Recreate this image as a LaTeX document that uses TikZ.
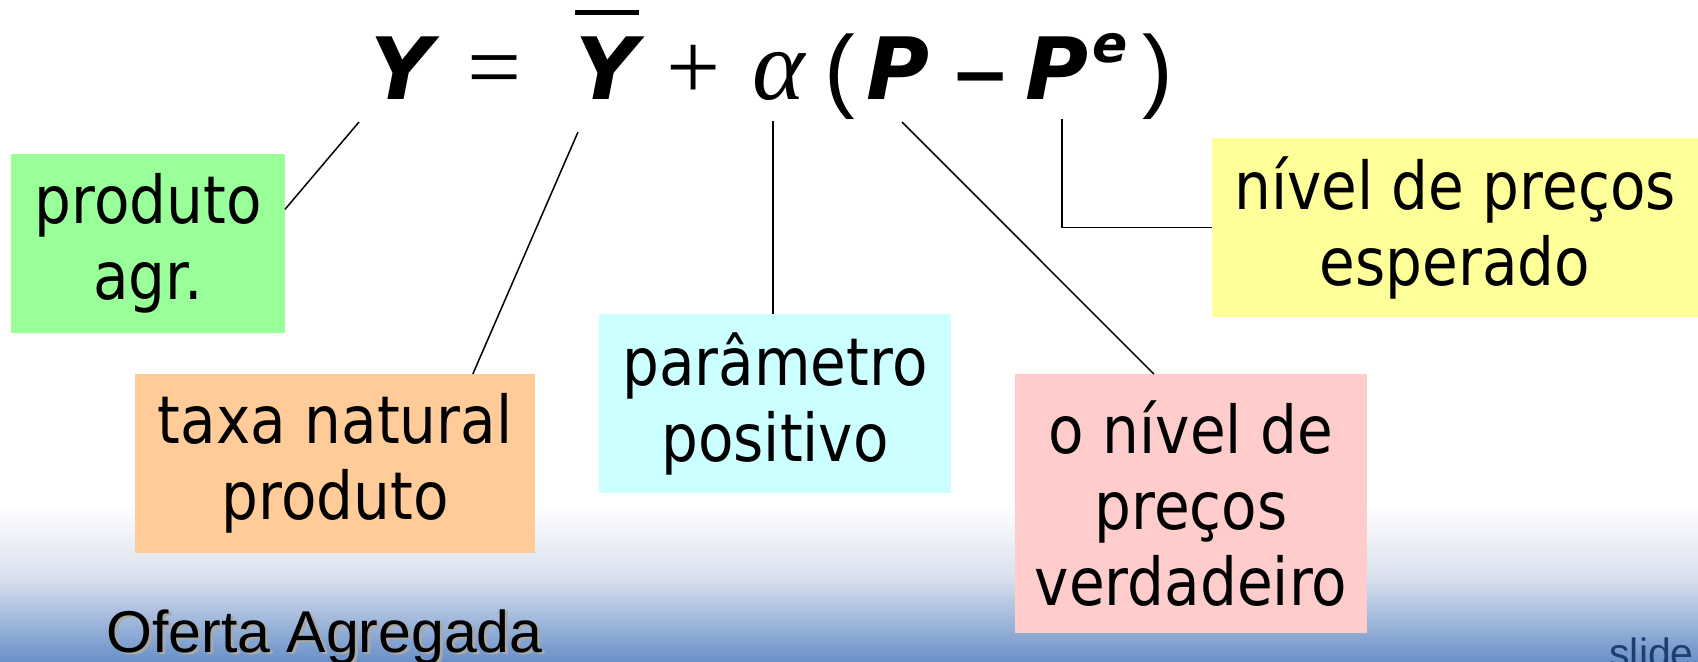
\documentclass[tikz,border=0pt]{standalone}
\usepackage{fontspec}
\setmainfont{DejaVu Sans}
\newfontfamily\eqfont{DejaVu Sans}
\newfontfamily\symfont{Liberation Serif}
\newfontfamily\boxfont{DejaVu Sans}[FakeStretch=0.88]
\newfontfamily\titlefont{Liberation Sans}
\usepackage{tikz}
\definecolor{prodgreen}{HTML}{99FF99}
\definecolor{rateorange}{HTML}{FFCC99}
\definecolor{paramcyan}{HTML}{CCFFFF}
\definecolor{actualpink}{HTML}{FFCCCC}
\definecolor{expectyellow}{HTML}{FFFF99}
\definecolor{bandmid}{HTML}{D8DFEE}
\definecolor{bandlow}{HTML}{6890C8}
\definecolor{shadowgray}{HTML}{A8A8A8}
\definecolor{slideblue}{HTML}{1E3F6E}
\newcommand{\shadowtext}[1]{\makebox[0pt][l]{\hspace{1.5pt}\raisebox{-1.5pt}{\textcolor{shadowgray}{#1}}}#1}

\begin{document}
\begin{tikzpicture}[x=0.5pt, y=-0.5pt,
  var/.style={anchor=base, inner sep=0pt, font=\eqfont\bfseries\itshape\fontsize{43pt}{43pt}\selectfont},
  sym/.style={anchor=base, inner sep=0pt, font=\symfont\fontsize{48pt}{48pt}\selectfont},
  paren/.style={anchor=base, inner sep=0pt, font=\titlefont\fontsize{46pt}{46pt}\selectfont},
  note/.style={anchor=north west, inner sep=0pt, outer sep=0pt, align=center, font=\boxfont\fontsize{33pt}{38pt}\selectfont},
  link/.style={draw, line width=0.75pt}]
  \useasboundingbox (0,0) rectangle (1698,662);
  % background band
  \fill[white] (0,0) rectangle (1698,505);
  \shade[top color=white, bottom color=bandmid] (0,504) rectangle (1698,580);
  \shade[top color=bandmid, bottom color=bandlow] (0,579) rectangle (1698,662);

  % the equation
  \node[var] (eY) at (402,100) {Y};
  \node[sym] (eEq) at (495,100) {=};
  \node[var] (eYb) at (607,100) {Y};
  \draw[line width=2.5pt] ([yshift=12pt]eYb.north west) -- ([yshift=12pt]eYb.north east);
  \node[sym] (ePlus) at (694,100) {+};
  \node[sym, font=\symfont\itshape\fontsize{50pt}{50pt}\selectfont] (eAl) at (779,100) {α};
  \node[paren] (eLp) at (840,101) {(};
  \node[var] (eP) at (898,100) {P};
  \node[anchor=base, inner sep=0pt, font=\eqfont\bfseries\fontsize{36pt}{36pt}\selectfont] (eMin) at (981,100) {−};
  \node[var] (ePe) at (1057,100) {P};
  \node[var, font=\eqfont\bfseries\itshape\fontsize{26pt}{26pt}\selectfont] (eSup) at (1110,63) {e};
  \node[paren] (eRp) at (1158,101) {)};

  \coordinate (sY) at (359,122);
  \coordinate (sYb) at (578,132);
  \coordinate (sA) at (773,121);
  \coordinate (sP) at (902,122);
  \coordinate (sPe) at (1062,119);

  % the labels
  \node[note, fill=prodgreen, minimum width=137pt, minimum height=89.5pt] (prod) at (11,154) {produto\\agr.};
  \node[note, fill=rateorange, minimum width=200pt, minimum height=89.5pt] (rate) at (135,374) {taxa natural\\produto};
  \node[note, fill=paramcyan, minimum width=176pt, minimum height=89.5pt] (param) at (599,314) {parâmetro\\positivo};
  \node[note, fill=actualpink, minimum width=176pt, minimum height=129.5pt] (actual) at (1015,374) {o nível de\\preços\\verdadeiro};
  \node[note, fill=expectyellow, minimum width=243pt, minimum height=89.5pt] (expect) at (1212,138) {nível de preços\\esperado};

  \draw[link] (sY) -- (prod.14);
  \draw[link] (sYb) -- (rate.33);
  \draw[link] (sA) -- (sA |- param.north);
  \draw[link] (sP) -- (actual.106);
  \draw[link] (sPe) |- (expect.west);

  \node[anchor=base west, inner sep=0pt, font=\titlefont\fontsize{29.5pt}{30pt}\selectfont] (title) at (106,652) {\shadowtext{Oferta Agregada}};
  \node[anchor=base west, inner sep=0pt, text=slideblue, font=\titlefont\fontsize{20.5pt}{21pt}\selectfont] (src) at (1609,667) {slide};
\end{tikzpicture}
\end{document}
